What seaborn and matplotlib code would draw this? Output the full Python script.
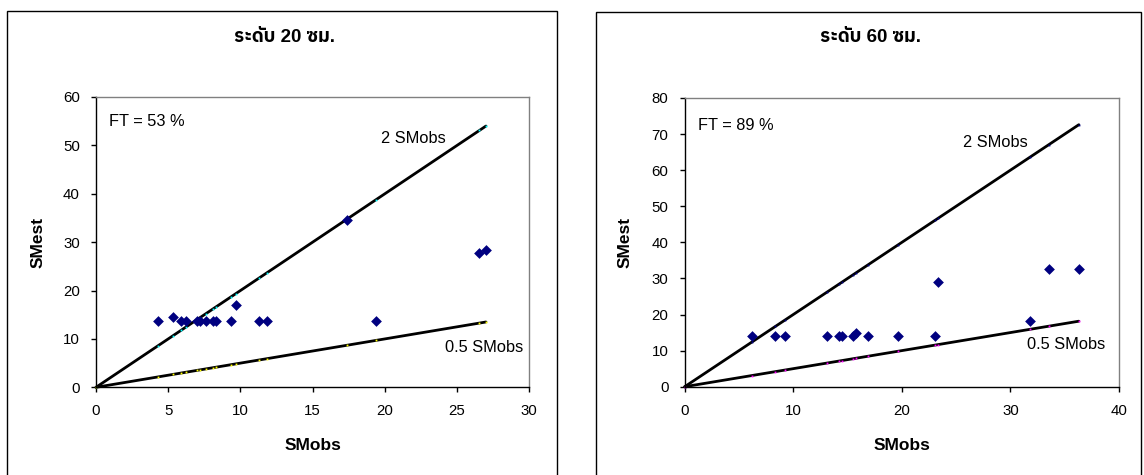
import numpy as np
import pandas as pd
import matplotlib
matplotlib.use("Agg")
import matplotlib.pyplot as plt
import seaborn as sns
from matplotlib import font_manager as fm
from matplotlib.ft2font import FT2Font
from matplotlib.patches import Rectangle

# ---------------- data ----------------
obs_20 = [4.27, 5.33, 5.9, 6.25, 7.0, 7.17, 7.62, 8.12, 8.29, 9.35, 9.67, 11.29, 11.85, 17.36, 19.4, 26.54, 27.0]
est_20 = [13.8, 14.5, 13.8, 13.8, 13.8, 13.8, 13.8, 13.8, 13.8, 13.8, 17.1, 13.8, 13.8, 34.6, 13.8, 27.8, 28.3]

obs_60 = [6.18, 8.35, 9.23, 13.07, 14.2, 14.45, 15.49, 15.75, 16.92, 19.65, 23.08, 23.37, 31.8, 33.55, 36.3]
est_60 = [14.1, 14.1, 14.1, 14.1, 14.1, 14.1, 14.1, 14.8, 14.1, 14.1, 14.1, 28.9, 18.1, 32.6, 32.6]

titles = ["ระดับ 20 ซม.", "ระดับ 60 ซม."]
ft_labels = ["FT = 53 %", "FT = 89 %"]
xlims = [30, 40]
ylims = [60, 80]
xsteps = [5, 10]
ysteps = [10, 10]

# ---------------- fonts ----------------
thai_family = None
for f in fm.fontManager.ttflist:
    try:
        if 0x0E23 in FT2Font(f.fname).get_charmap():
            thai_family = f.name
            if "Sans" in f.name:
                break
    except Exception:
        pass

sns.set_style("white")
fam = ["Liberation Sans"] + ([thai_family] if thai_family else []) + ["DejaVu Sans"]
plt.rcParams["font.family"] = fam
plt.rcParams["text.color"] = "black"
plt.rcParams["axes.labelcolor"] = "black"
plt.rcParams["xtick.color"] = "black"
plt.rcParams["ytick.color"] = "black"

W, H = 1144, 475
fig = plt.figure(figsize=(W / 100, H / 100), dpi=100)

def fx(px):
    return px / W

def fy(py):
    return 1 - py / H

# axes pixel boxes: left, top, right, bottom
boxes = [(96, 97, 529.3, 387.3), (684.7, 98, 1119, 386.7)]
frames = [(7.3, 11, 556.7), (596, 12.3, 1140.5)]
title_x = [285, 871]
two_lab = [(381, 138.3), (963.4, 142.3)]
half_lab = [(445.3, 347), (1026.7, 344.3)]
ft_pos = [(109.2, 121.6), (697.7, 125.7)]
ylab_x = [37.7, 625]
line_mk = [("#00FFFF", "#FFFF00"), ("#000080", "#FF00FF")]

datasets = [(obs_20, est_20), (obs_60, est_60)]

for i in range(2):
    l, t, r, b = boxes[i]
    ax = fig.add_axes([fx(l), fy(b), (r - l) / W, (b - t) / H])
    obs, est = datasets[i]
    df = pd.DataFrame({"SMobs": obs, "SMest": est})
    lines_df = pd.DataFrame({"x": [0.0] + sorted(obs)})
    lines_df["two"] = 2 * lines_df["x"]
    lines_df["half"] = 0.5 * lines_df["x"]

    sns.lineplot(data=lines_df, x="x", y="two", ax=ax, color="black", lw=2.0,
                 estimator=None, sort=True, marker="s", markersize=1.3,
                 markerfacecolor=line_mk[i][0], markeredgewidth=0, zorder=2)
    sns.lineplot(data=lines_df, x="x", y="half", ax=ax, color="black", lw=2.0,
                 estimator=None, sort=True, marker="s", markersize=1.3,
                 markerfacecolor=line_mk[i][1], markeredgewidth=0, zorder=2)
    sns.scatterplot(data=df, x="SMobs", y="SMest", ax=ax, marker="D", s=30,
                    color="#000080", edgecolor="#000080", linewidth=0, zorder=3)

    ax.set_xlim(0, xlims[i])
    ax.set_ylim(0, ylims[i])
    ax.set_xticks(np.arange(0, xlims[i] + 0.1, xsteps[i]))
    ax.set_yticks(np.arange(0, ylims[i] + 0.1, ysteps[i]))
    ax.tick_params(axis="both", direction="out", length=3.6, width=1, color="black",
                   labelsize=10.8, labelcolor="black")
    ax.tick_params(axis="x", pad=8.5)
    ax.tick_params(axis="y", pad=8)
    ax.tick_params(bottom=True, left=True, top=False, right=False)
    for s in ["left", "bottom"]:
        ax.spines[s].set_color("black")
        ax.spines[s].set_linewidth(1)
    for s in ["top", "right"]:
        ax.spines[s].set_color("#808080")
        ax.spines[s].set_linewidth(1)
        ax.spines[s].set_visible(True)

    ax.set_xlabel("SMobs", fontsize=12.5, fontweight="bold", color="black")
    ax.set_ylabel("SMest", fontsize=12.5, fontweight="bold", color="black")
    ax.xaxis.label.set_va("center")
    ax.yaxis.label.set_va("center")
    ax.xaxis.set_label_coords(0.5, -(445.7 - b) / (b - t))
    ax.yaxis.set_label_coords(-(l - ylab_x[i]) / (r - l), 0.5)

    for line in ax.lines:
        line.set_clip_on(False)

    # annotations (pixel positions converted to figure coords)
    fig.text(fx(ft_pos[i][0]), fy(ft_pos[i][1]), ft_labels[i], fontsize=11.8,
             ha="left", va="center", color="black")
    fig.text(fx(two_lab[i][0]), fy(two_lab[i][1]), "2 SMobs", fontsize=11.8,
             ha="left", va="center", color="black")
    fig.text(fx(half_lab[i][0]), fy(half_lab[i][1]), "0.5 SMobs", fontsize=11.8,
             ha="left", va="center", color="black")
    fig.text(fx(title_x[i]), fy(38), titles[i], fontsize=13.5, fontweight="bold",
             ha="center", va="center", color="black")

    fl, ftop, fr = frames[i]
    fig.add_artist(Rectangle((fx(fl), -0.1), (fr - fl) / W, fy(ftop) + 0.1,
                             transform=fig.transFigure, fill=False,
                             edgecolor="black", lw=1))

fig.savefig("out.png", dpi=100)
